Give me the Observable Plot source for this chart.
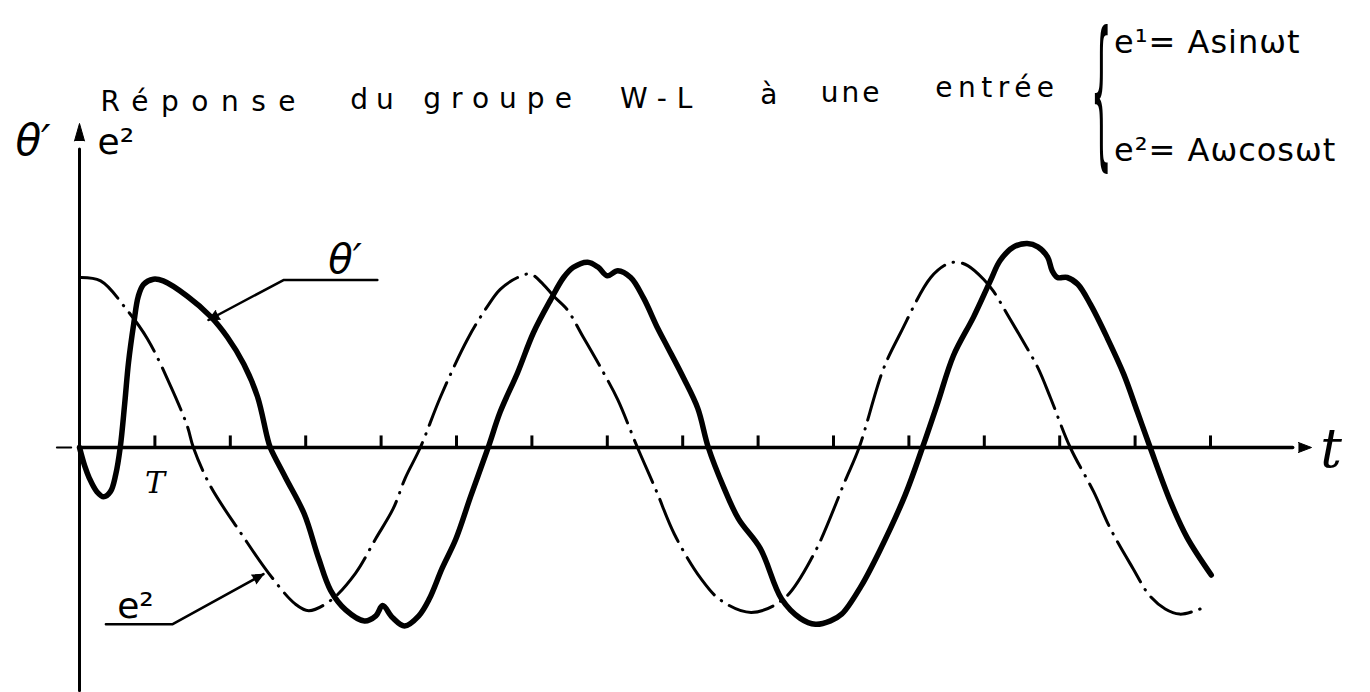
<!DOCTYPE html>
<html>
<head>
<meta charset="utf-8">
<script src="https://cdn.jsdelivr.net/npm/d3@7"></script>
<script src="https://cdn.jsdelivr.net/npm/@observablehq/plot@0.6"></script>
<style>
  body { margin: 0; background: #fff; }
</style>
</head>
<body>
<div id="chart"></div>
<script>
// Time is measured in tick periods T, amplitudes in units of the e² peak (Aω).

// θ' : response of the W-L group (solid line)
const thetaPts = [
  [0, 0], [0.07, -0.11], [0.13, -0.18], [0.23, -0.26], [0.32, -0.29], [0.41, -0.26],
  [0.48, -0.16], [0.54, 0], [0.60, 0.26], [0.65, 0.50], [0.72, 0.73], [0.78, 0.89],
  [0.85, 0.96], [0.98, 0.99], [1.11, 0.98], [1.43, 0.89], [1.74, 0.77], [1.96, 0.65],
  [2.18, 0.49], [2.36, 0.30], [2.49, 0.06], [2.53, 0], [2.73, -0.175], [2.98, -0.39],
  [3.17, -0.65], [3.33, -0.84], [3.53, -0.955], [3.78, -1.02], [3.93, -0.99], [4.02, -0.93],
  [4.15, -1.0], [4.31, -1.05], [4.50, -0.99], [4.64, -0.89], [4.81, -0.71], [4.99, -0.54],
  [5.19, -0.285], [5.42, 0], [5.58, 0.21], [5.81, 0.44], [6.02, 0.675], [6.25, 0.87],
  [6.42, 1.00], [6.55, 1.06], [6.74, 1.09], [6.88, 1.06], [7.00, 1.01], [7.14, 1.04],
  [7.31, 1.0], [7.48, 0.88], [7.67, 0.70], [7.80, 0.59], [8.01, 0.41], [8.20, 0.23],
  [8.34, 0], [8.54, -0.23], [8.74, -0.42], [9.03, -0.595], [9.31, -0.89], [9.56, -1.005],
  [9.76, -1.04], [9.96, -1.02], [10.11, -0.98], [10.36, -0.82], [10.61, -0.61], [10.95, -0.28],
  [11.18, 0], [11.38, 0.26], [11.59, 0.54], [11.86, 0.77], [12.08, 0.98], [12.21, 1.10],
  [12.39, 1.18], [12.57, 1.20], [12.71, 1.18], [12.84, 1.12], [12.90, 1.04], [12.97, 1.00],
  [13.10, 1.0], [13.24, 0.96], [13.41, 0.84], [13.63, 0.645], [13.85, 0.43], [14.03, 0.21],
  [14.20, 0], [14.47, -0.32], [14.69, -0.53], [15.01, -0.75]
];

// e² = Aω cos ωt : input (dash-dot line)
const e2Pts = [
  [0, 1.0], [0.28, 0.98], [0.61, 0.82], [0.90, 0.64], [1.21, 0.36], [1.43, 0.125],
  [1.51, 0], [1.74, -0.23], [2.15, -0.51], [2.51, -0.74], [2.86, -0.92], [3.04, -0.96],
  [3.33, -0.90], [3.66, -0.74], [3.93, -0.535], [4.16, -0.36], [4.32, -0.18], [4.52, 0],
  [4.79, 0.30], [5.15, 0.64], [5.41, 0.83], [5.58, 0.93], [5.81, 1.0], [5.98, 1.02],
  [6.15, 0.96], [6.29, 0.89], [6.47, 0.81], [6.68, 0.65], [6.95, 0.44], [7.14, 0.28],
  [7.40, 0], [7.65, -0.255], [7.89, -0.51], [8.24, -0.77], [8.51, -0.90], [8.91, -0.97],
  [9.34, -0.89], [9.73, -0.635], [10.16, -0.19], [10.34, 0], [10.66, 0.46], [10.89, 0.675],
  [11.29, 1.0], [11.51, 1.08], [11.64, 1.09], [11.78, 1.07], [11.99, 0.99], [12.12, 0.92],
  [12.31, 0.78], [12.52, 0.62], [12.71, 0.47], [12.88, 0.29], [13.14, 0], [13.45, -0.26],
  [13.67, -0.475], [13.97, -0.71], [14.19, -0.87], [14.40, -0.95], [14.59, -0.98],
  [14.80, -0.96], [14.97, -0.93]
];

// tick marks on the time axis, one per period T
const tickT = d3.range(1, 16);

// title words and the two inputs gathered by the brace
const titleWords = ["Réponse", "du", "groupe", "W-L", "à", "une", "entrée"];
const inputLines = ["e¹= Asinωt", "e²= Aωcosωt"];

// ---- layout (annotation placement in time / amplitude units) ----
const tAxisEnd = 16.34;
const vAxisBottom = -1.43;
const vAxisTop = 1.906;

const thetaLeader = [[3.95, 0.985], [2.705, 0.985], [1.71, 0.75]];
const e2Leader = [[0.35, -1.04], [1.23, -1.04], [2.44, -0.745]];

// start of each title word and its hand-lettered spacing (px)
const titleLayout = [
  {t: 0.28, v: 1.98, spacing: 12.5},
  {t: 3.59, v: 1.99, spacing: 8},
  {t: 4.56, v: 2.0, spacing: 10},
  {t: 7.17, v: 2.0, spacing: 10},
  {t: 9.03, v: 2.02, spacing: 0},
  {t: 9.83, v: 2.03, spacing: 3},
  {t: 11.35, v: 2.06, spacing: 5.5}
];
const inputLayout = [{t: 13.72, v: 2.318}, {t: 13.72, v: 1.688}];
const braceLayout = {t: 13.55, v: 1.765, scaleX: 0.75, scaleY: 3.7};

// scale geometry
const xDomain = [0, 15], xRange = [79, 1210];
const yDomain = [-1, 1], yRange = [617, 277];
const pxPerT = (xRange[1] - xRange[0]) / (xDomain[1] - xDomain[0]);
const pxPerV = (yRange[0] - yRange[1]) / (yDomain[1] - yDomain[0]);

// screen heading (degrees clockwise from up) of the segment a -> b
function heading(a, b) {
  const dx = (b[0] - a[0]) * pxPerT;
  const dy = -(b[1] - a[1]) * pxPerV;
  return Math.atan2(dx, -dy) * 180 / Math.PI;
}

const ink = "#000";
const theta = thetaPts.map(([t, v]) => ({t, v}));
const e2 = e2Pts.map(([t, v]) => ({t, v}));
const toObj = ([t, v]) => ({t, v});
const title = titleWords.map((text, i) => ({text, ...titleLayout[i]}));
const inputs = inputLines.map((text, i) => ({text, ...inputLayout[i]}));

const arrowHeads = [
  {t: tAxisEnd, v: 0, rotate: 90, len: 24},
  {t: 0, v: vAxisTop, rotate: 0, len: 32},
  {t: thetaLeader[2][0], v: thetaLeader[2][1], rotate: heading(thetaLeader[1], thetaLeader[2]), len: 20},
  {t: e2Leader[2][0], v: e2Leader[2][1], rotate: heading(e2Leader[1], e2Leader[2]), len: 20}
];

const hand = "DejaVu Sans";

const chart = Plot.plot({
  width: 1370,
  height: 692,
  margin: 0,
  style: {background: "#fff", color: ink},
  x: {domain: xDomain, range: xRange, axis: null},
  y: {domain: yDomain, range: yRange, axis: null},
  marks: [
    // time axis, with the small stub left of the origin
    Plot.line([{t: 0, v: 0}, {t: tAxisEnd - 0.25, v: 0}], {x: "t", y: "v", stroke: ink, strokeWidth: 3.5}),
    Plot.line([{t: -0.30, v: 0}, {t: -0.11, v: 0}], {x: "t", y: "v", stroke: ink, strokeWidth: 2}),
    // amplitude axis
    Plot.line([{t: 0, v: vAxisBottom}, {t: 0, v: vAxisTop - 0.15}], {x: "t", y: "v", stroke: ink, strokeWidth: 3}),
    // period ticks
    Plot.ruleX(tickT, {x: d => d, y1: () => 0, y2: () => 0.068, stroke: ink, strokeWidth: 3}),
    // e² input, dash-dot
    Plot.line(e2, {x: "t", y: "v", curve: "catmull-rom", stroke: ink, strokeWidth: 3,
      strokeDasharray: "46 9 0.5 9", strokeLinecap: "round"}),
    // θ' response, heavy solid
    Plot.line(theta, {x: "t", y: "v", curve: "catmull-rom", stroke: ink, strokeWidth: 5.5,
      strokeLinejoin: "round", strokeLinecap: "round"}),
    // leaders
    Plot.line(thetaLeader.map(toObj), {x: "t", y: "v", stroke: ink, strokeWidth: 2.5}),
    Plot.line(e2Leader.map(toObj), {x: "t", y: "v", stroke: ink, strokeWidth: 2.5}),
    // filled arrow heads
    Plot.vector(arrowHeads, {x: "t", y: "v", rotate: "rotate", length: d => d.len, r: 5,
      shape: "spike", anchor: "end", fill: ink, stroke: ink, strokeWidth: 1}),
    // curve labels
    Plot.text([{text: "θ′", t: 3.30, v: 1.027}], {x: "t", y: "v", text: "text", textAnchor: "start",
      lineAnchor: "bottom", fontFamily: hand, fontStyle: "italic", fontSize: 40, fill: ink}),
    Plot.text([{text: "e²", t: 0.50, v: -1.003}], {x: "t", y: "v", text: "text", textAnchor: "start",
      lineAnchor: "bottom", fontFamily: hand, fontSize: 36, fill: ink}),
    // axis labels
    Plot.text([{text: "θ′", t: -0.85, v: 1.718}], {x: "t", y: "v", text: "text", textAnchor: "start",
      lineAnchor: "bottom", fontFamily: hand, fontStyle: "italic", fontSize: 42, fill: ink}),
    Plot.text([{text: "e²", t: 0.24, v: 1.729}], {x: "t", y: "v", text: "text", textAnchor: "start",
      lineAnchor: "bottom", fontFamily: hand, fontSize: 36, fill: ink}),
    Plot.text([{text: "T", t: 1, v: -0.27}], {x: "t", y: "v", text: "text", textAnchor: "middle",
      lineAnchor: "bottom", fontFamily: "DejaVu Serif", fontStyle: "italic", fontSize: 30, fill: ink}),
    Plot.text([{text: "t", t: 16.6, v: -0.112}], {x: "t", y: "v", text: "text", textAnchor: "middle",
      lineAnchor: "bottom", fontFamily: "DejaVu Serif", fontStyle: "italic", fontSize: 54, fill: ink}),
    // title
    Plot.text(title, {x: "t", y: "v", text: "text", textAnchor: "start", lineAnchor: "bottom",
      fontFamily: hand, fontSize: 28, fill: ink}),
    // inputs
    Plot.text(inputs, {x: "t", y: "v", text: "text", textAnchor: "start", lineAnchor: "bottom",
      fontFamily: hand, fontSize: 32, fill: ink}),
    Plot.text([{text: "{", t: braceLayout.t, v: braceLayout.v}], {x: "t", y: "v", text: "text",
      textAnchor: "middle", lineAnchor: "middle", fontFamily: hand, fontSize: 44, fill: ink})
  ]
});

// hand-lettered spacing for the title words and the inputs
const spacingOf = new Map(title.map(d => [d.text, d.spacing]));
const inputSet = new Set(inputLines);
d3.select(chart).selectAll("text")
  .filter(function() { return spacingOf.has(this.textContent); })
  .attr("letter-spacing", function() { return `${spacingOf.get(this.textContent)}px`; });
d3.select(chart).selectAll("text")
  .filter(function() { return inputSet.has(this.textContent); })
  .attr("letter-spacing", "1px");
// stretch the brace so it spans both input lines while staying thin
d3.select(chart).selectAll("text")
  .filter(function() { return this.textContent === "{"; })
  .each(function() {
    const el = d3.select(this);
    const x = +el.attr("x") || 0, y = +el.attr("y") || 0;
    const tr = el.attr("transform") || "";
    el.attr("x", null).attr("y", null)
      .attr("transform", `${tr} translate(${x},${y}) scale(${braceLayout.scaleX},${braceLayout.scaleY})`);
  });

document.getElementById("chart").append(chart);
</script>
</body>
</html>
